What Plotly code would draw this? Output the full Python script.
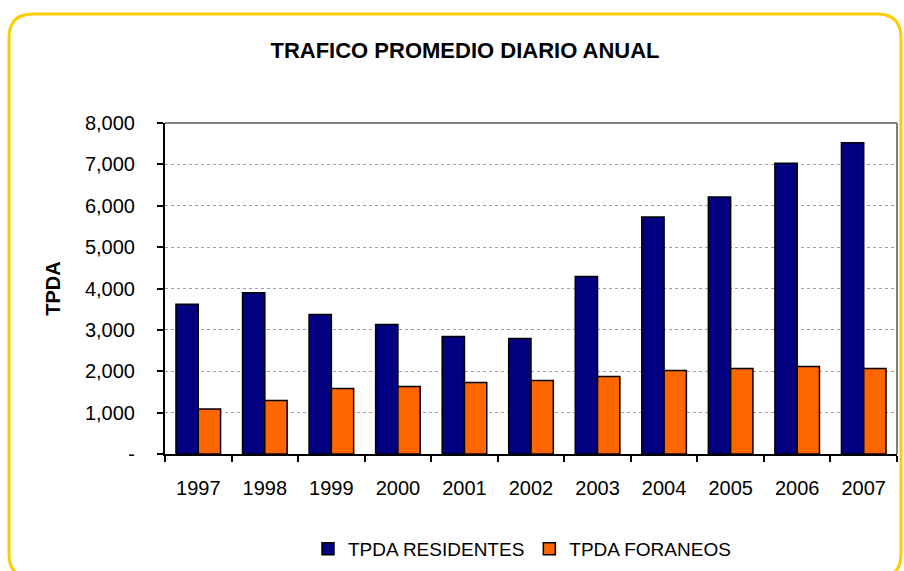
import plotly.graph_objects as go

years = ["1997", "1998", "1999", "2000", "2001", "2002", "2003", "2004", "2005", "2006", "2007"]
residentes = [3620, 3900, 3370, 3130, 2840, 2790, 4290, 5730, 6210, 7030, 7520]
foraneos = [1090, 1295, 1585, 1630, 1730, 1775, 1875, 2020, 2065, 2115, 2065]

y_ticks = [0, 1000, 2000, 3000, 4000, 5000, 6000, 7000, 8000]
y_labels = ["-", "1,000", "2,000", "3,000", "4,000", "5,000", "6,000", "7,000", "8,000"]

FONT = "Liberation Sans, Arial, sans-serif"

# plot area in pixels, used to place the decorations
L, R, T, B = 165, 897, 123, 454


def px_x(v):
    return (v - L) / (R - L)


def px_y(v):
    return (B - v) / (B - T)


def rounded_box(x0, y0, x1, y1, r):
    # rounded rectangle in pixel space, converted to paper coords
    pts = [
        ("M", [(x0 + r, y0)]),
        ("L", [(x1 - r, y0)]),
        ("Q", [(x1, y0), (x1, y0 + r)]),
        ("L", [(x1, y1 - r)]),
        ("Q", [(x1, y1), (x1 - r, y1)]),
        ("L", [(x0 + r, y1)]),
        ("Q", [(x0, y1), (x0, y1 - r)]),
        ("L", [(x0, y0 + r)]),
        ("Q", [(x0, y0), (x0 + r, y0)]),
    ]
    out = ""
    for cmd, coords in pts:
        out += cmd + " ".join(f"{px_x(a):.5f},{px_y(b):.5f}" for a, b in coords) + " "
    return out + "Z"


fig = go.Figure()
fig.add_trace(go.Bar(
    x=years, y=residentes, name="TPDA RESIDENTES",
    marker=dict(color="#000080", line=dict(color="black", width=1.5)),
))
fig.add_trace(go.Bar(
    x=years, y=foraneos, name="TPDA FORANEOS",
    marker=dict(color="#FF6600", line=dict(color="black", width=1.5)),
))

fig.update_layout(
    width=904, height=571,
    margin=dict(l=L, r=904 - R, t=T, b=571 - B, autoexpand=False),
    paper_bgcolor="white", plot_bgcolor="white",
    font=dict(family=FONT, color="black", size=20),
    barmode="group", bargap=0.33, bargroupgap=0,
    title=dict(
        text="<b>TRAFICO PROMEDIO DIARIO ANUAL</b>",
        font=dict(size=22, family=FONT, color="black"),
        x=465 / 904, xanchor="center", y=1 - 50 / 571, yanchor="middle",
    ),
    legend=dict(
        orientation="h", x=px_x(522), xanchor="center", y=px_y(549), yanchor="middle",
        font=dict(size=19), traceorder="normal",
    ),
    showlegend=True,
)

fig.update_yaxes(
    range=[0, 8000], tickvals=y_ticks, ticktext=y_labels,
    showline=True, linecolor="black", linewidth=2,
    ticks="outside", ticklen=6, tickwidth=2, tickcolor="black",
    ticklabelstandoff=18, automargin=False,
    showgrid=True, gridcolor="#a0a0a0", griddash="dot", gridwidth=1,
    zeroline=False,
    title=dict(text="<b>TPDA</b>", font=dict(size=20), standoff=19),
)
fig.update_xaxes(
    showline=True, linecolor="black", linewidth=2,
    ticks="outside", ticklen=6, tickwidth=2, tickcolor="black",
    tickson="boundaries", ticklabelstandoff=15, automargin=False,
    showgrid=False,
)

# gray frame on top and right of the plot area
fig.add_shape(type="line", xref="paper", yref="paper", x0=0, x1=1, y0=1, y1=1,
              line=dict(color="#808080", width=2))
fig.add_shape(type="line", xref="paper", yref="paper", x0=1, x1=1, y0=0, y1=1,
              line=dict(color="#808080", width=2))

# yellow rounded border around the chart
fig.add_shape(type="path", xref="paper", yref="paper",
              path=rounded_box(9, 14, 901, 578, 24),
              line=dict(color="#FFCC00", width=3), layer="below")

fig.write_html("out.html", config={"displayModeBar": False},
               post_script="document.body.style.margin='0';")
